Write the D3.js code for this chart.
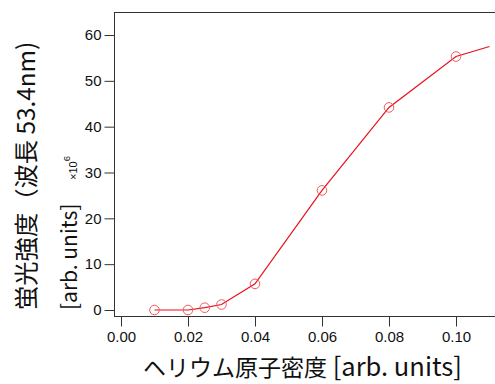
<!DOCTYPE html>
<html><head><meta charset="utf-8">
<script src="https://cdn.jsdelivr.net/npm/d3@7"></script>
<style>body{margin:0;background:#fff;}svg{display:block;}</style>
</head><body>
<svg id="chart" width="495" height="384"></svg>
<script>
const xValues = [0.01, 0.02, 0.025, 0.03, 0.04, 0.06, 0.08, 0.10, 0.110];
const yValues = [0.0, 0.0, 0.5, 1.2, 5.7, 26.1, 44.2, 55.3, 57.5];
const hasMarker = [true, true, true, true, true, true, true, true, false];
const xTicks = [0.00, 0.02, 0.04, 0.06, 0.08, 0.10];
const yTicks = [0, 10, 20, 30, 40, 50, 60];
const xTitleJa = "ヘリウム原子密度";
const xTitleUnit = "[arb. units]";
const yTitle1 = "蛍光強度（波長 53.4nm)";
const yTitle2 = "[arb. units]";

const svg = d3.select("#chart");
const L = 114, T = 12, R = 495, B = 316;
const x = d3.scaleLinear().domain([-0.00209, 0.11164]).range([L, R]);
const y = d3.scaleLinear().domain([-1.309, 65.02]).range([B, T]);
const axisColor = "#333";
const numFont = "'Liberation Sans', Arial, sans-serif";
const jpFont = "'Noto Sans CJK JP', sans-serif";

svg.append("line").attr("x1", L).attr("x2", R).attr("y1", T + 0.5).attr("y2", T + 0.5).attr("stroke", axisColor);

const xAxis = svg.append("g").attr("transform", `translate(0,${B + 0.5})`)
  .call(d3.axisBottom(x).tickValues(xTicks).tickSize(10).tickSizeOuter(0).tickPadding(5).tickFormat(d3.format(".2f")));
const yAxis = svg.append("g").attr("transform", `translate(${L + 0.5},0)`)
  .call(d3.axisLeft(y).tickValues(yTicks).tickSize(10).tickSizeOuter(0).tickPadding(3).tickFormat(d3.format("d")));
[xAxis, yAxis].forEach(a => {
  a.select(".domain").attr("stroke", axisColor);
  a.selectAll(".tick line").attr("stroke", axisColor);
  a.selectAll("text").attr("fill", "#111").style("font-family", numFont).style("font-size", "15px");
});
xAxis.select(".domain").attr("d", `M${L},0H${R}`);
yAxis.select(".domain").attr("d", `M0,${T}V${B}`);

const pts = xValues.map((d, i) => ({x: d, y: yValues[i], m: hasMarker[i]}));
svg.append("path").datum(pts)
  .attr("fill", "none").attr("stroke", "#e8101c").attr("stroke-width", 1.2)
  .attr("d", d3.line().x(d => x(d.x)).y(d => y(d.y)));
svg.selectAll("circle.pt").data(pts.filter(d => d.m)).join("circle")
  .attr("class", "pt").attr("cx", d => x(d.x)).attr("cy", d => y(d.y)).attr("r", 4.8)
  .attr("fill", "none").attr("stroke", "#f05a60").attr("stroke-width", 1);

// titles
const xt = svg.append("text").attr("x", 143).attr("y", 376)
  .style("font-family", jpFont).attr("fill", "#111");
xt.append("tspan").style("font-size", "23px").text(xTitleJa);
xt.append("tspan").style("font-size", "25.5px").text(" " + xTitleUnit);

svg.append("text").attr("transform", "translate(35,310) rotate(-90)").text(yTitle1)
  .style("font-family", jpFont).style("font-size", "24.3px").attr("fill", "#111");
svg.append("text").attr("transform", "translate(77,310) rotate(-90)").text(yTitle2)
  .style("font-family", jpFont).style("font-size", "21px").attr("fill", "#111");
const sx = svg.append("text").attr("transform", "translate(77,180) rotate(-90)")
  .style("font-family", numFont).style("font-size", "11px").attr("fill", "#111");
sx.append("tspan").text("×10");
sx.append("tspan").attr("dy", -7).style("font-size", "9.5px").text("6");
</script>
</body></html>
